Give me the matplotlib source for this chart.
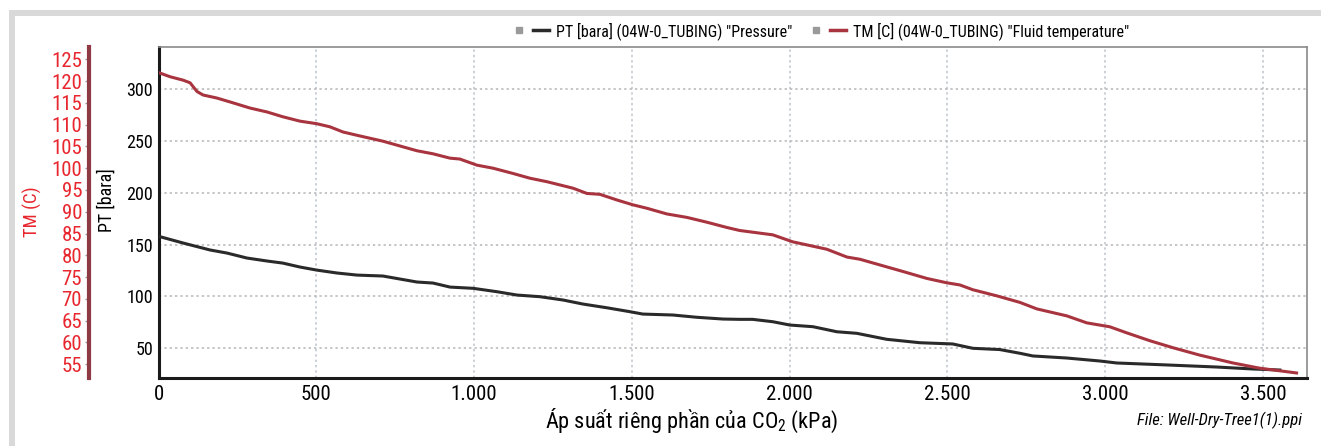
import matplotlib
matplotlib.use("Agg")
import matplotlib.pyplot as plt
from matplotlib import font_manager
from matplotlib.lines import Line2D
from matplotlib.patches import Rectangle
from matplotlib.legend_handler import HandlerTuple

# pick a narrow face if one is installed
names = set(f.name for f in font_manager.fontManager.ttflist)
narrow = [n for n in ['Roboto Condensed', 'Open Sans Condensed', 'Liberation Sans Narrow',
                      'DejaVu Sans Condensed', 'Arial Narrow'] if n in names]
plt.rcParams['font.family'] = narrow + ['DejaVu Sans']
has_condensed = any(f.name == 'DejaVu Sans' and f.stretch == 'condensed'
                    for f in font_manager.fontManager.ttflist)
if not narrow and has_condensed:
    plt.rcParams['font.stretch'] = 'condensed'

# partial pressure of CO2 (kPa) and pressure PT [bara]
pt_x = [5, 78, 163, 217, 280, 344, 394, 448, 502, 566, 629, 711, 765, 819, 870, 924,
        997, 1073, 1136, 1209, 1282, 1345, 1421, 1494, 1535, 1630, 1706, 1789, 1842,
        1883, 1947, 2001, 2074, 2150, 2213, 2308, 2413, 2517, 2581, 2666, 2730, 2771,
        2879, 2984, 3037, 3196, 3354, 3468, 3554]
pt_y = [157.6, 151.5, 144.8, 141.8, 137.0, 134.1, 132.1, 128.3, 125.3, 122.5, 120.5,
        119.6, 116.7, 113.8, 112.8, 108.9, 107.7, 104.4, 101.2, 99.6, 96.4, 92.5, 88.9,
        85.1, 82.8, 81.9, 79.7, 78.0, 77.7, 77.7, 75.4, 72.2, 70.6, 65.7, 64.2, 58.4,
        55.1, 53.9, 49.7, 48.5, 44.9, 42.3, 40.3, 37.4, 35.5, 33.6, 31.6, 29.7, 28.7]

# fluid temperature TM [C]
tm_x = [2, 36, 78, 100, 122, 141, 185, 236, 290, 344, 394, 448, 502, 543, 585, 638,
        711, 765, 819, 870, 924, 955, 1009, 1060, 1123, 1177, 1231, 1314, 1358, 1399,
        1453, 1503, 1548, 1611, 1675, 1738, 1801, 1842, 1947, 2010, 2118, 2182, 2223,
        2286, 2359, 2435, 2498, 2540, 2581, 2657, 2730, 2784, 2879, 2942, 3015, 3069,
        3142, 3215, 3300, 3405, 3490, 3607]
tm_y = [121.9, 121.0, 120.2, 119.6, 117.6, 116.8, 116.1, 115.0, 113.8, 112.9, 111.8,
        110.8, 110.2, 109.5, 108.3, 107.4, 106.2, 105.1, 104.0, 103.3, 102.3, 102.1,
        100.7, 100.0, 98.8, 97.7, 96.9, 95.4, 94.2, 94.0, 92.7, 91.6, 90.8, 89.5, 88.7,
        87.6, 86.4, 85.7, 84.7, 83.1, 81.4, 79.6, 79.1, 77.8, 76.3, 74.7, 73.7, 73.2,
        72.1, 70.7, 69.2, 67.7, 66.1, 64.5, 63.6, 62.2, 60.4, 58.8, 57.1, 55.3, 54.1,
        53.0]

x_ticks = [0, 500, 1000, 1500, 2000, 2500, 3000, 3500]
x_tick_labels = ['0', '500', '1.000', '1.500', '2.000', '2.500', '3.000', '3.500']
pt_ticks = [50, 100, 150, 200, 250, 300]
tm_ticks = [55, 60, 65, 70, 75, 80, 85, 90, 95, 100, 105, 110, 115, 120, 125]

RED = '#e8262e'
LINE_RED = '#a8343f'
LINE_BLK = '#2a2a2a'

fig = plt.figure(figsize=(13.21, 4.46), dpi=100)
ax = fig.add_axes([0.12, 0.1525, 0.8694, 0.742])

# light gray frame (left and top)
fig.add_artist(Rectangle((9/1321, 0), 6/1321, 1 - 10/446, transform=fig.transFigure,
                         color='#d9d9d9', lw=0))
fig.add_artist(Rectangle((9/1321, 1 - 16/446), 1, 6/446, transform=fig.transFigure,
                         color='#d9d9d9', lw=0))

ax.plot(pt_x, pt_y, color=LINE_BLK, lw=2.2, zorder=3)
ax.set_xlim(0, 3640)
ax.set_ylim(21, 341)
ax.set_xticks(x_ticks)
ax.set_xticklabels(x_tick_labels)
ax.set_yticks(pt_ticks)
ax.tick_params(axis='x', length=0, pad=5, labelsize=15)
ax.tick_params(axis='y', length=0, pad=4, labelsize=13)
ax.grid(axis='y', color='#b5b5b5', ls=(0, (1.5, 2)), lw=1.1)
ax.grid(axis='x', color='#bcc4cc', ls=(0, (1.5, 2)), lw=1.1)
for s in ['left', 'bottom']:
    ax.spines[s].set_linewidth(2.2)
    ax.spines[s].set_color('#1a1a1a')
for s in ['top', 'right']:
    ax.spines[s].set_linewidth(1.2)
    ax.spines[s].set_color('#8a8a8a')
ax.set_ylabel('PT [bara]', fontsize=13)
ax.yaxis.set_label_coords(-0.037, 0.538)

tm_ax = ax.twinx()
tm_ax.plot(tm_x, tm_y, color=LINE_RED, lw=2.2, zorder=3)
tm_ax.set_ylim(51.85, 127.8)
tm_ax.set_yticks(tm_ticks)
tm_ax.yaxis.set_ticks_position('left')
tm_ax.yaxis.set_label_position('left')
for s in ['top', 'right', 'bottom']:
    tm_ax.spines[s].set_visible(False)
tm_ax.spines['left'].set_visible(True)
tm_ax.spines['left'].set_position(('axes', -0.0605))
tm_ax.spines['left'].set_color('#8e3a44')
tm_ax.spines['left'].set_linewidth(3)
tm_ax.tick_params(axis='y', length=3, width=1, color='#999999', pad=2,
                  labelsize=15, labelcolor=RED)
tm_ax.set_ylabel('TM (C)', fontsize=13.5, color=RED)
tm_ax.yaxis.set_label_coords(-0.1014, 0.503)

# legend with small gray icon before each line
icon = Line2D([], [], marker='s', ms=5, color='#9a9a9a', ls='none')
h_pt = Line2D([], [], color=LINE_BLK, lw=2.5)
h_tm = Line2D([], [], color=LINE_RED, lw=2.5)
fig.legend([(icon, h_pt), (icon, h_tm)],
           ['PT [bara] (04W-0_TUBING) "Pressure"', 'TM [C] (04W-0_TUBING) "Fluid temperature"'],
           handler_map={tuple: HandlerTuple(ndivide=None, pad=0.3)},
           loc='center', bbox_to_anchor=(820/1321, 1 - 31/446), ncol=2, frameon=False,
           fontsize=11.5, handlelength=2.4, handletextpad=0.4, columnspacing=1.0)

fig.text(692/1321, 1 - 421/446, 'Áp suất riêng phần của CO$_\\mathregular{2}$ (kPa)',
         ha='center', va='center', fontsize=16)
fig.text(1302/1321, 1 - 420/446, 'File: Well-Dry-Tree1(1).ppi', ha='right', va='center',
         fontsize=12, style='italic')

fig.savefig('out.png', dpi=100)
